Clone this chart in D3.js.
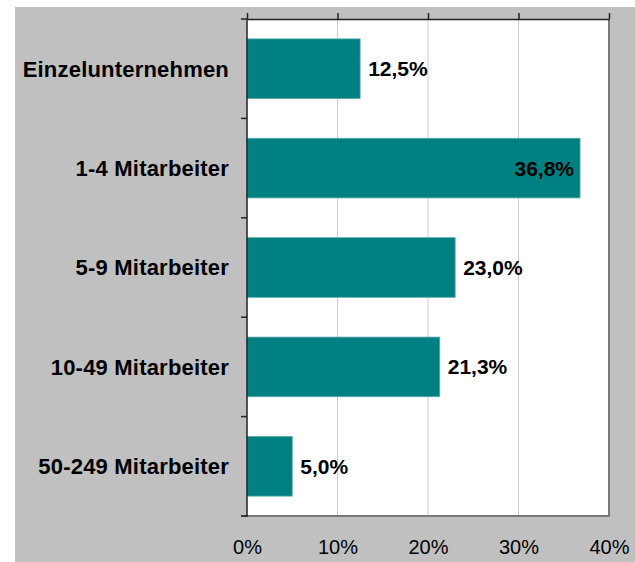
<!DOCTYPE html>
<html>
<head>
<meta charset="utf-8">
<script src="https://cdn.jsdelivr.net/npm/d3@7"></script>
<style>
  html, body { margin: 0; padding: 0; background: #ffffff; }
  svg { display: block; font-family: "Liberation Sans", Arial, sans-serif; }
</style>
</head>
<body>
<svg id="chart" width="635" height="562"></svg>
<script>
// Unternehmen nach Größenklasse (Anteil in %)
const categories = ["Einzelunternehmen", "1-4 Mitarbeiter", "5-9 Mitarbeiter", "10-49 Mitarbeiter", "50-249 Mitarbeiter"];
const shares = [12.5, 36.8, 23.0, 21.3, 5.0];
const valueLabels = ["12,5%", "36,8%", "23,0%", "21,3%", "5,0%"];
const xTicks = [0, 10, 20, 30, 40];
const xTickLabels = ["0%", "10%", "20%", "30%", "40%"];

const svg = d3.select("#chart");

// panel background
svg.append("rect")
  .attr("x", 15).attr("y", 7).attr("width", 620).attr("height", 555)
  .attr("fill", "#c0c0c0");

const plot = { left: 247, right: 609, top: 19, bottom: 516 };

const x = d3.scaleLinear().domain([0, 40]).range([plot.left, plot.right]);
const y = d3.scaleBand().domain(categories)
  .range([plot.top, plot.bottom])
  .paddingInner(0.4).paddingOuter(0.2);

// plot area
svg.append("rect")
  .attr("x", plot.left).attr("y", plot.top)
  .attr("width", plot.right - plot.left).attr("height", plot.bottom - plot.top)
  .attr("fill", "#ffffff");

// vertical gridlines
svg.append("g").selectAll("line")
  .data(xTicks.filter(t => t > 0 && t < 40))
  .join("line")
  .attr("x1", d => x(d)).attr("x2", d => x(d))
  .attr("y1", plot.top).attr("y2", plot.bottom)
  .attr("stroke", "#cccccc").attr("stroke-width", 1);

// right and bottom frame
svg.append("line")
  .attr("x1", x(40)).attr("x2", x(40))
  .attr("y1", plot.top).attr("y2", plot.bottom + 1)
  .attr("stroke", "#7a7a7a").attr("stroke-width", 2);
svg.append("line")
  .attr("x1", plot.left - 6).attr("x2", x(40) + 1)
  .attr("y1", plot.bottom).attr("y2", plot.bottom)
  .attr("stroke", "#7a7a7a").attr("stroke-width", 2);

// bars
svg.append("g").selectAll("rect")
  .data(categories)
  .join("rect")
  .attr("x", x(0))
  .attr("y", d => y(d))
  .attr("width", (d, i) => x(shares[i]) - x(0))
  .attr("height", y.bandwidth())
  .attr("fill", "#008080")
  .attr("stroke", "#5fa9a9").attr("stroke-width", 0.8);

// top axis with outward ticks
const topAxis = svg.append("g")
  .attr("transform", `translate(0,${plot.top})`)
  .call(d3.axisTop(x).tickValues(xTicks).tickSize(6).tickSizeOuter(0).tickFormat(""));
topAxis.select(".domain").attr("stroke", "#222").attr("stroke-width", 1.5);
topAxis.selectAll(".tick line").attr("stroke", "#222").attr("stroke-width", 1.5);

// bottom tick labels
const bottomAxis = svg.append("g")
  .attr("transform", `translate(0,${plot.bottom})`)
  .call(d3.axisBottom(x).tickValues(xTicks).tickSize(0).tickPadding(24)
    .tickFormat((d, i) => xTickLabels[i]));
bottomAxis.select(".domain").remove();
bottomAxis.selectAll("text")
  .attr("font-family", "Liberation Sans, Arial, sans-serif")
  .attr("font-size", 20).attr("fill", "#000");

// left axis line and category boundary ticks
svg.append("line")
  .attr("x1", plot.left).attr("x2", plot.left)
  .attr("y1", plot.top - 1).attr("y2", plot.bottom + 1)
  .attr("stroke", "#222").attr("stroke-width", 1.5);
const bounds = d3.range(categories.length + 1).map(i => plot.top + i * y.step());
svg.append("g").selectAll("line")
  .data(bounds)
  .join("line")
  .attr("x1", plot.left - 6).attr("x2", plot.left)
  .attr("y1", d => d).attr("y2", d => d)
  .attr("stroke", "#222").attr("stroke-width", 1.5);

// category labels
svg.append("g").selectAll("text")
  .data(categories)
  .join("text")
  .attr("x", 229)
  .attr("y", d => y(d) + y.bandwidth() / 2)
  .attr("dy", "0.36em")
  .attr("text-anchor", "end")
  .attr("font-size", 22).attr("font-weight", "bold")
  .attr("letter-spacing", 0.2)
  .attr("fill", "#000")
  .text(d => d);

// value labels
svg.append("g").selectAll("text")
  .data(categories)
  .join("text")
  .attr("x", (d, i) => shares[i] > 30 ? x(shares[i]) - 6 : x(shares[i]) + 8)
  .attr("y", d => y(d) + y.bandwidth() / 2)
  .attr("dy", "0.36em")
  .attr("text-anchor", (d, i) => shares[i] > 30 ? "end" : "start")
  .attr("font-size", 21).attr("font-weight", "bold")
  .attr("fill", "#000")
  .text((d, i) => valueLabels[i]);
</script>
</body>
</html>
